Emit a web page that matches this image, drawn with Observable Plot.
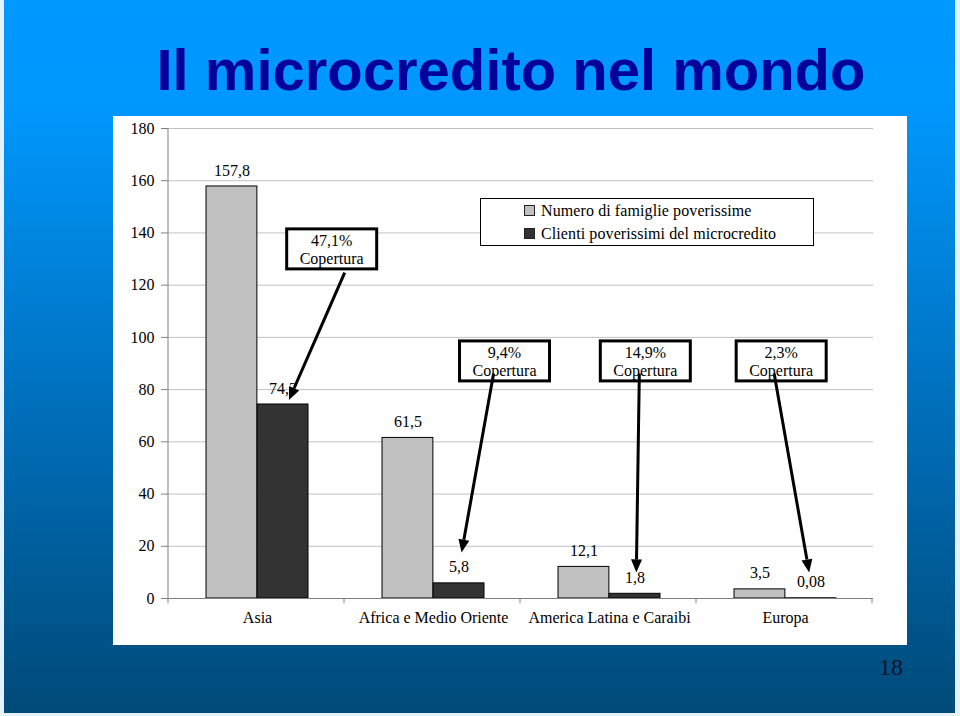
<!DOCTYPE html>
<html>
<head>
<meta charset="utf-8">
<script src="https://cdn.jsdelivr.net/npm/d3@7"></script>
<script src="https://cdn.jsdelivr.net/npm/@observablehq/plot@0.6"></script>
<style>
  html, body { margin: 0; padding: 0; background: #e4f2fb; width: 960px; height: 716px; overflow: hidden; }
  #slide {
    position: absolute; left: 4px; top: 0; width: 951px; height: 713px; overflow: hidden;
    background: linear-gradient(to bottom, #0099ff 0px, #0097fc 110px, #0070bd 400px, #004a78 713px);
  }
  #title {
    position: absolute; left: 7px; width: 1000px; top: 41px; text-align: center;
    font: bold 58px/58px "Liberation Sans", Arial, sans-serif; color: #00009a; white-space: nowrap;
  }
  #panel { position: absolute; left: 109px; top: 116px; width: 794px; height: 529px; background: #fff; }
  #panel svg { position: absolute; left: 0; top: 0; }
  #panel svg text { font-family: "Liberation Serif", "Times New Roman", serif; }
  #legend {
    position: absolute; left: 367px; top: 82px; width: 332px; height: 46px;
    border: 1.5px solid #000; background: #fff;
    font: 16px "Liberation Serif", "Times New Roman", serif; color: #000;
  }
  #legend .row { position: absolute; left: 43px; white-space: nowrap; height: 18px; line-height: 18px; letter-spacing: 0.1px; }
  #legend .sw { display: inline-block; width: 9px; height: 9px; border: 1px solid #222; margin-right: 6px; vertical-align: 0px; }
  #page { position: absolute; left: 862px; top: 652px; width: 50px; text-align: center;
    font: 24px/30px "Liberation Serif", "Times New Roman", serif; color: #06122a; }
</style>
</head>
<body>
<div id="slide">
  <div id="title">Il microcredito nel mondo</div>
  <div id="panel"></div>
  <div id="page">18</div>
</div>
<script>
// ---- data ----
const categories = ["Asia", "Africa e Medio Oriente", "America Latina e Caraibi", "Europa"];
const series = ["Numero di famiglie poverissime", "Clienti poverissimi del microcredito"];
const famiglie = [157.8, 61.5, 12.1, 3.5];   // milioni di famiglie poverissime
const clienti = [74.3, 5.8, 1.8, 0.08];      // clienti poverissimi del microcredito
const yTicks = [0, 20, 40, 60, 80, 100, 120, 140, 160, 180];
const seriesColors = ["#c0c0c0", "#333333"];

// ---- layout (positions, not data) ----
const W = 794, H = 529;
const M = {top: 12, right: 34, bottom: 47, left: 55};
const bw = (W - M.left - M.right) / categories.length;
const padFrac = 0.21, barFrac = 0.29;
const serifFamily = "Liberation Serif, Times New Roman, serif";
// box centre (fraction of band, y value), arrow start and arrow tip
const annotationLayout = [
  {box: [0.93, 133.7], from: [1.004, 124.6], to: [0.687, 75.8]},
  {box: [0.912, 90.8], from: [0.85, 86.0], to: [0.668, 17.4]},
  {box: [0.712, 90.8], from: [0.678, 86.0], to: [0.661, 9.8]},
  {box: [0.484, 90.8], from: [0.444, 86.0], to: [0.643, 9.8]}
];

const fmt = v => String(v).replace(".", ",");
const pct = (a, b) => (a / b * 100).toFixed(1).replace(".", ",") + "%";

const rows = categories.flatMap((c, i) => [
  {cat: c, serie: series[0], value: famiglie[i]},
  {cat: c, serie: series[1], value: clienti[i]}
]);
const grayRows = rows.filter(d => d.serie === series[0]);
const darkRows = rows.filter(d => d.serie === series[1]);
const coverage = categories.map((c, i) => pct(clienti[i], famiglie[i]));

function decorations(index, scales, values, dims) {
  const x = scales.x, y = scales.y;
  const step = x(categories[1]) - x(categories[0]);
  const off = x(categories[0]) - dims.marginLeft;
  const start = c => x(c) - off;
  const g = d3.create("svg:g");
  // left axis line
  g.append("line").attr("x1", dims.marginLeft).attr("x2", dims.marginLeft)
    .attr("y1", y(180)).attr("y2", y(0)).attr("stroke", "#808080");
  // category boundary ticks
  const bounds = categories.map(start).concat([start(categories[categories.length - 1]) + step]);
  for (const b of bounds) {
    g.append("line").attr("x1", b).attr("x2", b).attr("y1", y(0)).attr("y2", y(0) + 5).attr("stroke", "#808080");
  }
  // coverage boxes
  categories.forEach((c, i) => {
    const L = annotationLayout[i];
    const cx = start(c) + L.box[0] * step, cy = y(L.box[1]);
    g.append("rect").attr("x", cx - 45).attr("y", cy - 20).attr("width", 90).attr("height", 40)
      .attr("fill", "#fff").attr("stroke", "#000").attr("stroke-width", 3);
    const t = g.append("text").attr("text-anchor", "middle").attr("font-size", 16)
      .attr("font-family", serifFamily).attr("fill", "#000");
    t.append("tspan").attr("x", cx).attr("y", cy - 3).text(coverage[i]);
    t.append("tspan").attr("x", cx).attr("y", cy + 15).text("Copertura");
  });
  // arrows
  categories.forEach((c, i) => {
    const L = annotationLayout[i];
    const x1 = start(c) + L.from[0] * step, y1 = y(L.from[1]);
    const x2 = start(c) + L.to[0] * step, y2 = y(L.to[1]);
    const a = Math.atan2(y2 - y1, x2 - x1), hl = 13, hw = 5.5;
    const bx = x2 - hl * Math.cos(a), by = y2 - hl * Math.sin(a);
    g.append("line").attr("x1", x1).attr("y1", y1).attr("x2", bx).attr("y2", by)
      .attr("stroke", "#000").attr("stroke-width", 3);
    const px = -Math.sin(a), py = Math.cos(a);
    g.append("path")
      .attr("d", `M${x2},${y2}L${bx + hw * px},${by + hw * py}L${bx - hw * px},${by - hw * py}Z`)
      .attr("fill", "#000");
  });
  return g.node();
}

const chart = Plot.plot({
  width: W, height: H,
  marginTop: M.top, marginRight: M.right, marginBottom: M.bottom, marginLeft: M.left,
  style: {fontFamily: serifFamily, fontSize: "16px", color: "#000", background: "transparent", overflow: "visible"},
  x: {type: "band", domain: categories, padding: 0, label: null},
  y: {domain: [0, 180], label: null},
  color: {domain: series, range: seriesColors},
  marks: [
    Plot.ruleY(yTicks.filter(v => v > 0), {stroke: "#c0c0c0", strokeWidth: 1}),
    Plot.barY(grayRows, {x: "cat", y: "value", fill: "serie", stroke: "#000", strokeWidth: 1,
      insetLeft: padFrac * bw, insetRight: bw - (padFrac + barFrac) * bw}),
    Plot.barY(darkRows, {x: "cat", y: "value", fill: "serie", stroke: "#000", strokeWidth: 1,
      insetLeft: (padFrac + barFrac) * bw, insetRight: padFrac * bw}),
    Plot.ruleY([0], {stroke: "#808080"}),
    Plot.axisY({ticks: yTicks, tickSize: 7, tickPadding: 7, stroke: "#808080", fill: "#000", label: null, fontSize: 16, fontFamily: serifFamily}),
    Plot.axisX({tickSize: 0, tickPadding: 13, label: null, fill: "#000", fontSize: 16, fontFamily: serifFamily}),
    Plot.text(grayRows, {x: "cat", y: "value", text: d => fmt(d.value), dx: -(0.5 - padFrac - barFrac / 2) * bw, dy: -16, fontSize: 16, fontFamily: serifFamily, fill: "#000"}),
    Plot.text(darkRows, {x: "cat", y: "value", text: d => fmt(d.value), dx: (0.5 - padFrac - barFrac / 2) * bw, dy: -16, fontSize: 16, fontFamily: serifFamily, fill: "#000"}),
    decorations
  ]
});
const panel = document.getElementById("panel");
panel.appendChild(chart);

// legend built from the series and colour arrays
const legend = document.createElement("div");
legend.id = "legend";
series.forEach((s, i) => {
  const row = document.createElement("div");
  row.className = "row";
  row.style.top = (3 + i * 23) + "px";
  const sw = document.createElement("span");
  sw.className = "sw";
  sw.style.background = seriesColors[i];
  row.appendChild(sw);
  row.appendChild(document.createTextNode(s));
  legend.appendChild(row);
});
panel.appendChild(legend);
</script>
</body>
</html>
